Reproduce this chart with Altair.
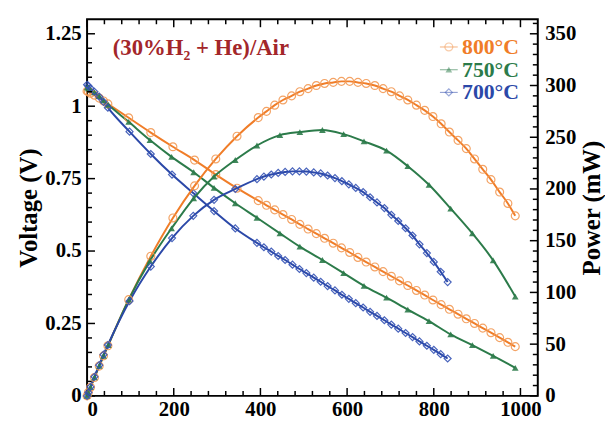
import altair as alt
import pandas as pd

# ---------------- data ----------------
series = ["800°C", "750°C", "700°C"]

i_800 = [0, 3, 8, 17, 28, 38, 48, 96, 147, 198, 248, 297, 346, 395, 414, 433, 452, 472,
         491, 510, 529, 548, 568, 587, 606, 625, 644, 664, 683, 702, 721, 740, 760, 779,
         798, 817, 836, 856, 875, 894, 913, 932, 952, 971, 988]
v_800 = [1.052, 1.05, 1.045, 1.038, 1.028, 1.018, 1.008, 0.96, 0.909, 0.86, 0.814, 0.764,
         0.717, 0.674, 0.658, 0.642, 0.626, 0.609, 0.592, 0.576, 0.56, 0.544, 0.527, 0.511,
         0.495, 0.478, 0.462, 0.445, 0.429, 0.413, 0.397, 0.381, 0.364, 0.348, 0.331, 0.315,
         0.299, 0.282, 0.266, 0.25, 0.234, 0.218, 0.201, 0.185, 0.17]
p_800 = [0, 3.2, 8.4, 17.7, 28.8, 38.7, 48.4, 93, 135, 172, 203, 229, 251, 269, 275, 281,
         286, 290, 294, 297, 300, 302, 303, 304, 304, 303, 302, 300, 297, 294, 290, 286, 281,
         276, 270, 263, 255, 247, 239, 229, 219, 209, 197, 186, 174]

i_750 = [0, 3, 8, 17, 28, 38, 49, 96, 145, 195, 246, 293, 342, 392, 445, 491, 543, 592,
         639, 691, 740, 789, 839, 889, 937, 988]
v_750 = [1.065, 1.062, 1.057, 1.048, 1.035, 1.02, 1.005, 0.946, 0.883, 0.825, 0.772, 0.718,
         0.665, 0.615, 0.561, 0.515, 0.469, 0.424, 0.38, 0.339, 0.298, 0.258, 0.212, 0.175,
         0.138, 0.097]
p_750 = [0, 3.2, 8.5, 17.8, 29, 38.8, 49.2, 93, 130.5, 162, 191, 212, 228, 242, 252, 255,
         257, 253, 246, 237, 222, 204, 181, 157, 131, 96]

i_700 = [0, 3, 8, 17, 28, 38, 48, 98, 147, 196, 245, 293, 342, 392, 408, 425, 441, 457, 474,
         490, 506, 523, 539, 555, 572, 588, 604, 620, 637, 653, 669, 686, 702, 718, 735, 751,
         767, 784, 800, 816, 832]
v_700 = [1.074, 1.07, 1.062, 1.05, 1.033, 1.015, 0.995, 0.912, 0.835, 0.764, 0.7, 0.638,
         0.578, 0.528, 0.513, 0.498, 0.483, 0.469, 0.453, 0.438, 0.424, 0.408, 0.394, 0.379,
         0.364, 0.349, 0.335, 0.32, 0.305, 0.29, 0.276, 0.261, 0.246, 0.232, 0.217, 0.203,
         0.188, 0.173, 0.159, 0.144, 0.129]
p_700 = [0, 3.3, 8.7, 18.5, 29.7, 39.8, 49.2, 91.6, 125, 152.5, 174, 189.5, 200, 209.5, 212,
         214, 215.5, 216.5, 217, 217, 216.8, 216, 215, 213, 210.5, 207.5, 204.5, 201, 197,
         192, 187, 181.5, 175, 169, 162, 155, 146.5, 138, 129.5, 120, 110]

x_major = [0, 200, 400, 600, 800, 1000]
x_minor = [40, 80, 120, 160, 240, 280, 320, 360, 440, 480, 520, 560, 640, 680, 720, 760,
           840, 880, 920, 960]
v_major = [0, 0.25, 0.5, 0.75, 1, 1.25]
v_minor = [0.05, 0.1, 0.15, 0.2, 0.3, 0.35, 0.4, 0.45, 0.55, 0.6, 0.65, 0.7, 0.8, 0.85,
           0.9, 0.95, 1.05, 1.1, 1.15, 1.2]
p_major = [0, 50, 100, 150, 200, 250, 300, 350]
p_minor = [10, 20, 30, 40, 60, 70, 80, 90, 110, 120, 130, 140, 160, 170, 180, 190, 210,
           220, 230, 240, 260, 270, 280, 290, 310, 320, 330, 340, 360]

gas_label = "(30%H₂ + He)/Air"

# ---------------- styling ----------------
W, H = 456, 381
FONT = "Liberation Serif"
colors = {"800°C": "#F07D28", "750°C": "#2C7B4A", "700°C": "#2B48A8"}
marker_colors = {"800°C": "#F39A55", "750°C": "#2C7B4A", "700°C": "#3553B5"}
shapes = {"800°C": "circle", "750°C": "triangle-up", "700°C": "diamond"}
filled = {"800°C": False, "750°C": True, "700°C": False}
msize = {"800°C": 64, "750°C": 46, "700°C": 50}

rows = []
for name, I, V, P in zip(series, [i_800, i_750, i_700], [v_800, v_750, v_700],
                         [p_800, p_750, p_700]):
    for a, b, c in zip(I, V, P):
        rows.append({"series": name, "I": a, "V": b, "P": c})
df = pd.DataFrame(rows)

xscale = alt.Scale(domain=[0, 1040], nice=False, zero=False)
vscale = alt.Scale(domain=[0, 1.3], nice=False)
pscale = alt.Scale(domain=[0, 364], nice=False)
cscale = alt.Scale(domain=series, range=[colors[s] for s in series])

x_axis = alt.Axis(values=x_major, title=None, labelPadding=3, format="d")
v_axis = alt.Axis(values=v_major, format=".2~f", title="Voltage (V)", orient="left",
                  labelPadding=6, titlePadding=3)
p_axis = alt.Axis(values=p_major, format="d", title="Power (mW)", orient="right",
                  labelPadding=7, titlePadding=4, titleAngle=270, titleBaseline="top")


def X(field):
    return alt.X(field, type="quantitative", scale=xscale, axis=x_axis, title=None)


def YV(field):
    return alt.Y(field, type="quantitative", scale=vscale, axis=v_axis, title="Voltage (V)")


def YP(field):
    return alt.Y(field, type="quantitative", scale=pscale, axis=p_axis, title="Power (mW)")


base = alt.Chart(df)

# voltage group
v_layers = [base.mark_line(strokeWidth=2, interpolate="monotone").encode(
    x=X("I"), y=YV("V"),
    color=alt.Color("series:N", scale=cscale, legend=None),
    detail="series:N",
)]
for s in series:
    sub = base.transform_filter(alt.datum.series == s)
    v_layers.append(sub.mark_point(shape=shapes[s], filled=filled[s], size=msize[s],
                                   strokeWidth=1.2, color=marker_colors[s], opacity=0.9).encode(
        x=X("I"), y=YV("V")))

# left ticks
for vals, ln in [(v_major, 8), (v_minor, 5)]:
    d = pd.DataFrame({"t": vals})
    v_layers.append(alt.Chart(d).mark_rule(color="black", strokeWidth=1.5).encode(
        y=YV("t"), x=alt.value(0), x2=alt.value(ln)))
# bottom/top ticks
for vals, ln in [(x_major, 8), (x_minor, 5)]:
    d = pd.DataFrame({"t": vals})
    v_layers.append(alt.Chart(d).mark_rule(color="black", strokeWidth=1.5).encode(
        x=X("t"), y=alt.value(H), y2=alt.value(H - ln)))
    v_layers.append(alt.Chart(d).mark_rule(color="black", strokeWidth=1.5).encode(
        x=X("t"), y=alt.value(0), y2=alt.value(ln)))

# power group
p_layers = [base.mark_line(strokeWidth=2, interpolate="monotone").encode(
    x=X("I"), y=YP("P"),
    color=alt.Color("series:N", scale=cscale, legend=None),
    detail="series:N",
)]
for s in series:
    sub = base.transform_filter(alt.datum.series == s)
    p_layers.append(sub.mark_point(shape=shapes[s], filled=filled[s], size=msize[s],
                                   strokeWidth=1.2, color=marker_colors[s], opacity=0.9).encode(
        x=X("I"), y=YP("P")))
for vals, ln in [(p_major, 8), (p_minor, 5)]:
    d = pd.DataFrame({"t": vals})
    p_layers.append(alt.Chart(d).mark_rule(color="black", strokeWidth=1.5).encode(
        y=YP("t"), x=alt.value(W), x2=alt.value(W - ln)))

# annotation + custom legend
ann_df = pd.DataFrame({"label": [gas_label]})
p_layers.append(alt.Chart(ann_df).mark_text(
    font=FONT, fontSize=23, fontWeight="bold", color="#A3262A", align="left",
    baseline="middle").encode(text="label:N", x=alt.value(26), y=alt.value(29)))

leg_y = {"800°C": 28, "750°C": 51, "700°C": 74}
for s in series:
    d = pd.DataFrame({"label": [s]})
    ch = alt.Chart(d)
    p_layers.append(ch.mark_text(font=FONT, fontSize=22, fontWeight="bold", color=colors[s],
                                 align="right", baseline="middle").encode(
        text="label:N", x=alt.value(437), y=alt.value(leg_y[s])))
    p_layers.append(ch.mark_rule(color=colors[s], strokeWidth=1.2, opacity=0.5).encode(
        x=alt.value(357), x2=alt.value(375), y=alt.value(leg_y[s])))
    p_layers.append(ch.mark_point(shape=shapes[s], filled=filled[s], size=msize[s],
                                  strokeWidth=1.2, color=marker_colors[s], opacity=0.5).encode(
        x=alt.value(366), y=alt.value(leg_y[s])))

vgroup = alt.layer(*v_layers)
pgroup = alt.layer(*p_layers)

chart = alt.layer(vgroup, pgroup).resolve_scale(y="independent").properties(
    width=W, height=H, padding={"top": 8, "left": 9, "right": 0, "bottom": 0}
).configure_view(stroke="black", strokeWidth=2).configure_axis(
    labelFont=FONT, labelFontSize=21, labelFontWeight="bold", labelColor="black",
    titleFont=FONT, titleFontSize=25, titleFontWeight="bold", titleColor="black",
    ticks=False, domain=False, grid=False,
)

chart.save("out.html", embed_options={"renderer": "svg", "actions": False})
